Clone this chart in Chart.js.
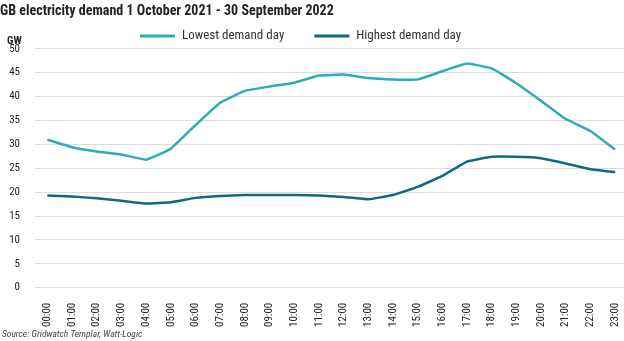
<!DOCTYPE html>
<html>
<head>
<meta charset="utf-8">
<script src="https://cdn.jsdelivr.net/npm/chart.js@4"></script>
<style>
  html, body { margin: 0; padding: 0; background: #fff; }
  #wrap { width: 624px; height: 341px; position: relative; }
</style>
</head>
<body>
<div id="wrap"><canvas id="demandChart"></canvas></div>
<script>
const FONT = "'Roboto Condensed', 'Open Sans Condensed', sans-serif";

const hours = ['00:00', '01:00', '02:00', '03:00', '04:00', '05:00', '06:00', '07:00',
    '08:00', '09:00', '10:00', '11:00', '12:00', '13:00', '14:00', '15:00',
    '16:00', '17:00', '18:00', '19:00', '20:00', '21:00', '22:00', '23:00'];

// GW per hour
const lowestDay = [31.0, 29.4, 28.5, 27.9, 26.8, 29.1, 34.0, 38.7, 41.2, 42.1, 42.9, 44.4,
    44.6, 43.9, 43.6, 43.6, 45.3, 46.9, 45.9, 42.8, 39.1, 35.3, 32.8, 28.9];
const highestDay = [19.3, 19.1, 18.7, 18.2, 17.6, 17.9, 18.8, 19.2, 19.4, 19.4, 19.4, 19.3,
    19.0, 18.5, 19.4, 21.1, 23.4, 26.4, 27.4, 27.4, 27.1, 26.0, 24.8, 24.2];

const yTicks = [0, 5, 10, 15, 20, 25, 30, 35, 40, 45, 50];

const LIGHT = '#2badb9';
const DARK = '#0d6a80';

const toPoints = values => values.map((v, i) => ({ x: i, y: v }));

// legend, axis unit and source line drawn straight on the canvas
const extras = {
    id: 'extras',
    afterDraw(chart) {
        const ctx = chart.ctx;
        ctx.save();

        // legend
        let x = 140;
        const y = 36;
        ctx.font = `13px ${FONT}`;
        ctx.textBaseline = 'middle';
        ctx.textAlign = 'left';
        chart.data.datasets.forEach(ds => {
            ctx.fillStyle = ds.borderColor;
            ctx.fillRect(x, y - 1.5, 35, 3);
            x += 42;
            ctx.fillStyle = '#333';
            ctx.fillText(ds.label, x, y);
            x += ctx.measureText(ds.label).width + 30;
        });

        ctx.fillStyle = '#222';
        ctx.font = `bold 11px ${FONT}`;
        ctx.fillText('GW', 7, 41);

        ctx.font = `italic 9.5px ${FONT}`;
        ctx.fillStyle = '#444';
        ctx.fillText('Source: Gridwatch Templar, Watt-Logic', 2, 335);
        ctx.restore();
    }
};

new Chart(document.getElementById('demandChart'), {
    type: 'line',
    data: {
        datasets: [
            {
                label: 'Lowest demand day',
                data: toPoints(lowestDay),
                borderColor: LIGHT,
                backgroundColor: LIGHT,
                borderWidth: 2.5,
                pointRadius: 0,
                tension: 0.1
            },
            {
                label: 'Highest demand day',
                data: toPoints(highestDay),
                borderColor: DARK,
                backgroundColor: DARK,
                borderWidth: 2.5,
                pointRadius: 0,
                tension: 0.1
            }
        ]
    },
    options: {
        responsive: true,
        maintainAspectRatio: false,
        animation: false,
        layout: { padding: { left: 0, right: 0, top: 0, bottom: 7 } },
        plugins: {
            legend: { display: false },
            tooltip: { enabled: false },
            title: {
                display: true,
                text: 'GB electricity demand 1 October 2021 - 30 September 2022',
                align: 'start',
                color: '#222',
                font: { family: FONT, size: 14, weight: 'bold' },
                padding: { top: 3, bottom: 29 }
            }
        },
        scales: {
            x: {
                type: 'linear',
                min: -0.5,
                max: 23.36,
                grid: { display: false },
                border: { display: false },
                afterBuildTicks: scale => {
                    scale.ticks = hours.map((h, i) => ({ value: i }));
                },
                afterFit: scale => {
                    // let the plot run to the right edge
                    scale.paddingLeft = 0;
                    scale.paddingRight = 0;
                },
                ticks: {
                    autoSkip: false,
                    minRotation: 90,
                    maxRotation: 90,
                    padding: 7,
                    color: '#222',
                    font: { family: FONT, size: 11 },
                    callback: v => hours[v]
                }
            },
            y: {
                min: 0,
                max: 50,
                afterBuildTicks: scale => {
                    scale.ticks = yTicks.map(v => ({ value: v }));
                },
                afterFit: scale => { scale.width = 35; },
                grid: { color: '#dcdcdc', lineWidth: 1, drawTicks: false },
                border: { display: false },
                ticks: {
                    padding: 15,
                    color: '#222',
                    font: { family: FONT, size: 11 }
                }
            }
        }
    },
    plugins: [extras]
});
</script>
</body>
</html>
